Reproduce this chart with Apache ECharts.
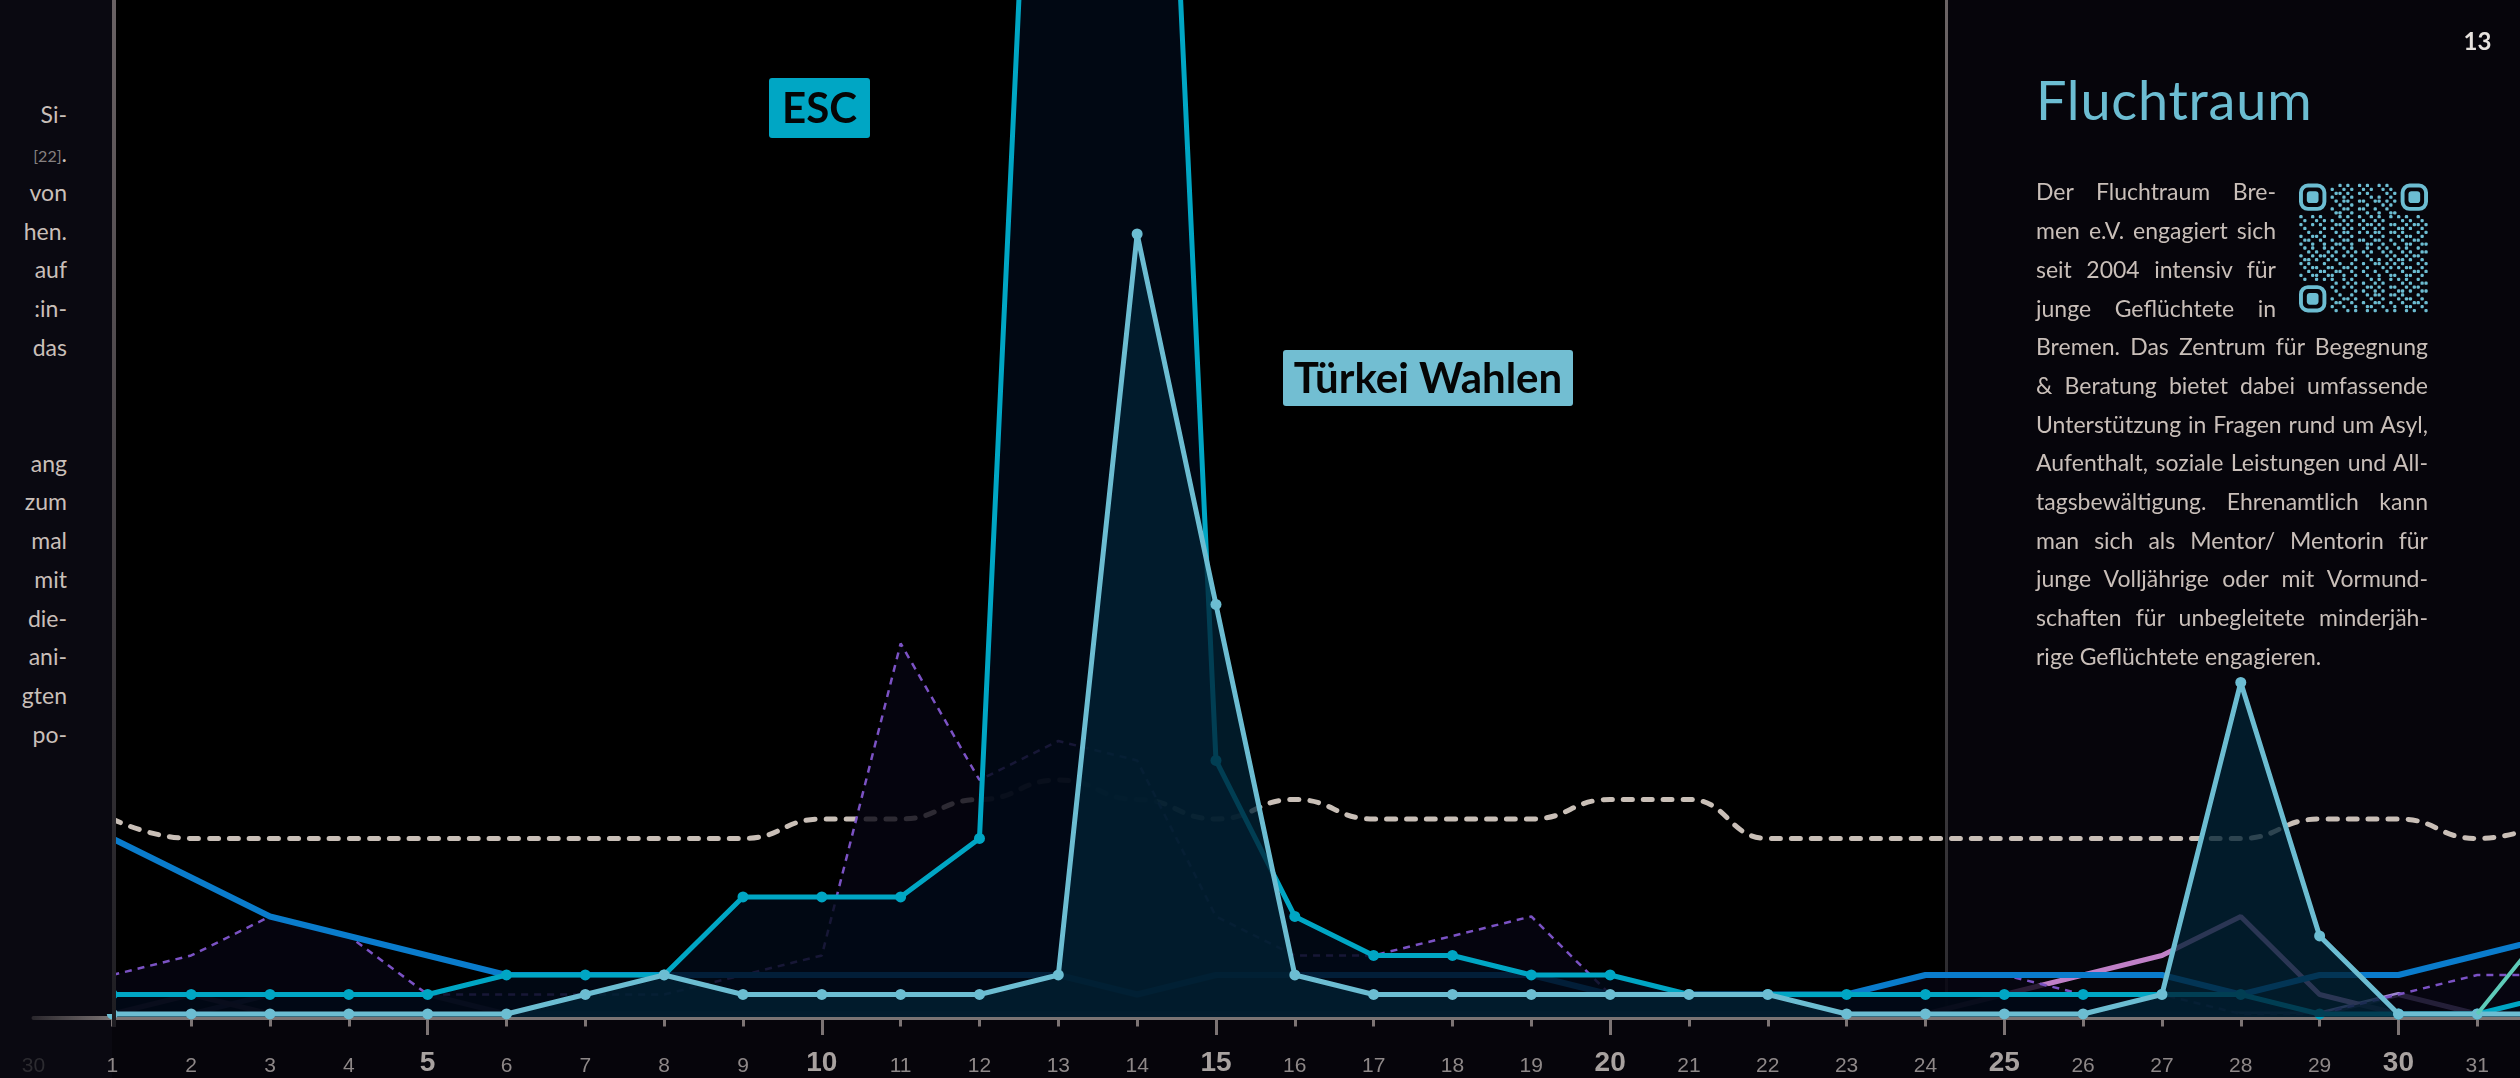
<!DOCTYPE html>
<html>
<head>
<meta charset="utf-8">
<script src="https://cdn.jsdelivr.net/npm/echarts@6/dist/echarts.min.js"></script>
<style>
html,body{margin:0;padding:0;width:2520px;height:1078px;overflow:hidden;background:#06050b;font-family:Lato,"Noto Sans",sans-serif;}
.abs{position:absolute;}
#leftbg{left:0;top:0;width:112px;height:1078px;background:#0a0911;z-index:1;}
#plotbg{left:116px;top:0;width:1829px;height:1016px;background:#000;z-index:1;}
#rline{left:1945px;top:0;width:3px;height:1016px;background:linear-gradient(#6b6465,#2b2a2e);z-index:2;}
#chart{left:0;top:0;width:2520px;height:1078px;z-index:3;}
#leftcover{left:0;top:0;width:112px;height:1014px;background:#0a0911;z-index:4;}
#lline{left:112px;top:0;width:4px;height:1027px;background:linear-gradient(#6a6264,#1e1d22);z-index:5;}
.ltxt{position:absolute;right:2453px;width:300px;text-align:right;font-size:23px;line-height:38px;height:38px;color:#c9bfb9;z-index:6;white-space:nowrap;}
.ptxt{position:absolute;left:2036px;font-size:23px;line-height:38px;height:38px;color:#c9bfb9;z-index:6;white-space:nowrap;text-align:left;}
#title{left:2036px;top:73px;font-size:54px;line-height:54px;color:#6cbdd2;z-index:6;letter-spacing:0.8px;}
#pnum{left:2440px;width:75px;text-align:center;top:29px;font-size:24px;line-height:24px;font-weight:700;color:#e6e2de;z-index:6;}
#qr{left:2299px;top:183px;width:129px;height:130px;z-index:6;}
</style>
</head>
<body>
<div id="leftbg" class="abs"></div>
<div id="plotbg" class="abs"></div>
<div id="rline" class="abs"></div>
<div id="chart" class="abs"></div>
<div id="leftcover" class="abs"></div>
<div id="lline" class="abs"></div>
<div id="lefttext"></div>
<div id="title" class="abs">Fluchtraum</div>
<div id="pnum" class="abs">13</div>
<svg id="qr" class="abs" viewBox="0 0 33 33"></svg>
<div id="ptext"></div>
<script>
// ---------- data ----------
const dayLabels = ['30','1','2','3','4','5','6','7','8','9','10','11','12','13','14','15','16','17','18','19','20','21','22','23','24','25','26','27','28','29','30','31','1'];
const escValues      = [null, 1,1,1,1,1, 2,2,2,6,6, 6,9,95,100,13, 5,3,3,2,2, 1,1,1,1,1, 1,1,1,0,0, 0, 1];
const turkeyValues   = [null, 0,0,0,0,0, 0,1,2,1,1, 1,1,2,40,21, 2,1,1,1,1, 1,1,0,0,0, 0,1,17,4,0, 0, 0];
const blueValues     = [null, 9,7,5,4,3, 2,2,2,2,2, 2,2,2,1,2, 2,2,2,2,1, 1,1,1,2,2, 2,2,1,2,2, 3, 4];
const purpleValues   = [null, 2,3,5,4,1, 1,1,1,2,3, 19,12,14,13,5, 3,3,4,5,1, 1,1,1,2,2, 1,1,0,0,1, 2, 2];
const averageValues  = [null, 10,9,9,9,9, 9,9,9,9,10, 10,11,12,11,10, 11,10,10,10,11, 11,9,9,9,9, 9,9,9,10,10, 9, 10];
const pinkValues     = [null, 0,1,0,0,0, 0,0,0,0,0, 0,0,0,0,0, 0,0,0,0,0, 0,0,0,0,1, 2,3,5,1,0, 0, 0];
const lavenderValues = [null, 0,0,1,1,1, 0,0,0,0,0, 0,0,0,0,0, 0,0,0,0,0, 0,0,0,0,0, 0,0,0,0,1, 0, 0];
const tealValues     = [null, null,null,null,null,null, null,null,null,null,null, null,null,null,null,null, null,null,null,null,null, null,null,null,null,null, null,null,null,null,null, 0, 5];
const annotations = [
  {text:'ESC', color:'#00a6c4'},
  {text:'Türkei Wahlen', color:'#72bed2'}
];
const leftLines = ['Si-','[22].','von','hen.','auf',':in-','das','','','ang','zum','mal','mit','die-','ani-','gten','po-'];
const panelLines = [
  'Der Fluchtraum Bre-',
  'men e.V. engagiert sich',
  'seit 2004 intensiv für',
  'junge Geflüchtete in',
  'Bremen. Das Zentrum für Begegnung',
  '& Beratung bietet dabei umfassende',
  'Unterstützung in Fragen rund um Asyl,',
  'Aufenthalt, soziale Leistungen und All-',
  'tagsbewältigung. Ehrenamtlich kann',
  'man sich als Mentor/ Mentorin für',
  'junge Volljährige oder mit Vormund-',
  'schaften für unbegleitete minderjäh-',
  'rige Geflüchtete engagieren.'
];

// ---------- side texts ----------
const lt = document.getElementById('lefttext');
leftLines.forEach((t,i)=>{
  const d = document.createElement('div');
  d.className='ltxt';
  d.style.top = (115 + 38.7*i - 19.6) + 'px';
  if (t === '[22].') d.innerHTML = '<span style="font-size:16px;color:#858080">[22]</span>.';
  else d.textContent = t;
  lt.appendChild(d);
});
const pt = document.getElementById('ptext');
const spans = [];
panelLines.forEach((t,i)=>{
  const d = document.createElement('div');
  d.className='ptxt';
  d.style.top = (192 + 38.7*i - 19.6) + 'px';
  const sp = document.createElement('span');
  sp.textContent = t;
  d.appendChild(sp);
  pt.appendChild(d);
  spans.push({sp, t, target: i < 4 ? 240 : 392, last: i === panelLines.length-1});
});
function justify(){
  spans.forEach(o=>{
    if (o.last) return;
    o.sp.style.wordSpacing = '0px';
    const w = o.sp.getBoundingClientRect().width;
    const n = (o.t.match(/ /g)||[]).length;
    if (n > 0) o.sp.style.wordSpacing = ((o.target - w)/n) + 'px';
  });
}
justify();
if (document.fonts && document.fonts.ready) document.fonts.ready.then(justify);

// ---------- QR-like emblem ----------
(function(){
  const svg = document.getElementById('qr');
  const N = 33, col = '#6cbdd2';
  let s = '';
  const finder = (x,y)=>{
    s += `<rect x="${x+0.5}" y="${y+0.5}" width="6" height="6" rx="1.8" fill="none" stroke="${col}" stroke-width="1"/>`;
    s += `<rect x="${x+2}" y="${y+2}" width="3" height="3" rx="0.8" fill="${col}"/>`;
  };
  finder(0,0); finder(N-7,0); finder(0,N-7);
  const inF = (r,c)=> (r<8&&c<8)||(r<8&&c>=N-8)||(r>=N-8&&c<8);
  for (let r=0;r<N;r++) for (let c=0;c<N;c++){
    if (inF(r,c)) continue;
    const v = (r*31 + c*17 + r*c*7 + ((r*c)>>1) + (r^c)) % 5;
    if (v < 2) s += `<rect x="${c+0.08}" y="${r+0.08}" width="0.84" height="0.84" rx="0.3" fill="${col}"/>`;
  }
  svg.innerHTML = s;
})();

// ---------- chart ----------
const chart = echarts.init(document.getElementById('chart'), null, {renderer:'canvas'});
const isMajor = i => i >= 1 && i <= 31 && i % 5 === 0;
const axisGrad = new echarts.graphic.LinearGradient(0,0,2520,0,[
  {offset:0,color:'rgba(124,116,116,0)'},{offset:0.045,color:'#7c7474'},{offset:1,color:'#7c7474'}], true);

function lineSeries(name, data, color, width, z, extra){
  return Object.assign({
    type:'line', name, data, z, symbol:'none', connectNulls:false, clip:true,
    lineStyle:{color, width}, itemStyle:{color}, emphasis:{disabled:true}, silent:true
  }, extra||{});
}

const option = {
  animation:false,
  backgroundColor:'transparent',
  textStyle:{fontFamily:'Lato'},
  grid:{left:33.5, right:-36.1, top:0, bottom:61.1, containLabel:false, outerBoundsMode:'none'},
  xAxis:[
    {type:'category', data:dayLabels, boundaryGap:false, position:'bottom', offset:0.6, z:1,
     axisLine:{show:true, onZero:false, lineStyle:{color:axisGrad, width:4}},
     axisTick:{show:true, length:9, interval:(i)=> i>0 && !isMajor(i), lineStyle:{color:'#7c7474', width:3}},
     axisLabel:{show:true, interval:(i)=>!isMajor(i), margin:48.5, verticalAlign:'middle',
       fontFamily:'Liberation Sans', fontSize:21, color:(v,i)=> i===0 ? '#2c2b30' : '#8e8888'},
     splitLine:{show:false}},
    {type:'category', data:dayLabels, boundaryGap:false, position:'bottom', offset:0.6, z:1,
     axisLine:{show:false, onZero:false},
     axisTick:{show:true, length:17.5, interval:(i)=>isMajor(i), lineStyle:{color:'#7c7474', width:3}},
     axisLabel:{show:true, interval:(i)=>isMajor(i), margin:45.5, verticalAlign:'middle',
       fontFamily:'Liberation Sans', fontSize:28, fontWeight:'bold', color:'#a8a2a0'},
     splitLine:{show:false}}
  ],
  yAxis:{type:'value', min:-0.15, max:52, show:false, splitLine:{show:false}},
  series:[
    lineSeries('Durchschnitt', averageValues, '#c9bfb7', 5, 2, {smooth:0.5, smoothMonotone:'x',
      lineStyle:{color:'#c9bfb7', width:5, type:[9,11], cap:'round'}}),
    lineSeries('Lavendel', lavenderValues, '#9d85d0', 5, 3),
    lineSeries('Rosa', pinkValues, '#c080c8', 5, 4),
    lineSeries('Lila', purpleValues, '#7b52c4', 2.5, 5, {
      lineStyle:{color:'#7b52c4', width:2.5, type:[7,6]},
      areaStyle:{color:'rgba(6,5,18,0.8)', opacity:1, origin:'start'}}),
    lineSeries('Blau', blueValues, '#0a7ccc', 6, 6),
    lineSeries('ESC', escValues, '#00a6c4', 5, 7, {
      symbol:'circle', symbolSize:11, showSymbol:true, showAllSymbol:true,
      areaStyle:{color:'rgba(1,10,23,0.82)', opacity:1, origin:'start'}}),
    lineSeries('Türkei Wahlen', turkeyValues, '#6cbdd2', 5, 8, {
      symbol:'circle', symbolSize:11, showSymbol:true, showAllSymbol:true,
      areaStyle:{color:'rgba(1,33,51,0.78)', opacity:1, origin:'start'}}),
    lineSeries('Türkis', tealValues, '#5ecbb9', 4, 9)
  ],
  graphic:[
    {type:'group', z:100, children:[
      {type:'rect', shape:{x:769, y:78, width:101, height:60, r:3}, style:{fill:annotations[0].color}},
      {type:'text', style:{text:annotations[0].text, x:819.5, y:109, align:'center', verticalAlign:'middle',
        font:'bold 42px Lato', fill:'#050505'}}
    ]},
    {type:'group', z:100, children:[
      {type:'rect', shape:{x:1283, y:350, width:290, height:56, r:3}, style:{fill:annotations[1].color}},
      {type:'text', style:{text:annotations[1].text, x:1428, y:379, align:'center', verticalAlign:'middle',
        font:'bold 42px Lato', fill:'#050505'}}
    ]}
  ]
};
chart.setOption(option);
</script>
</body>
</html>
